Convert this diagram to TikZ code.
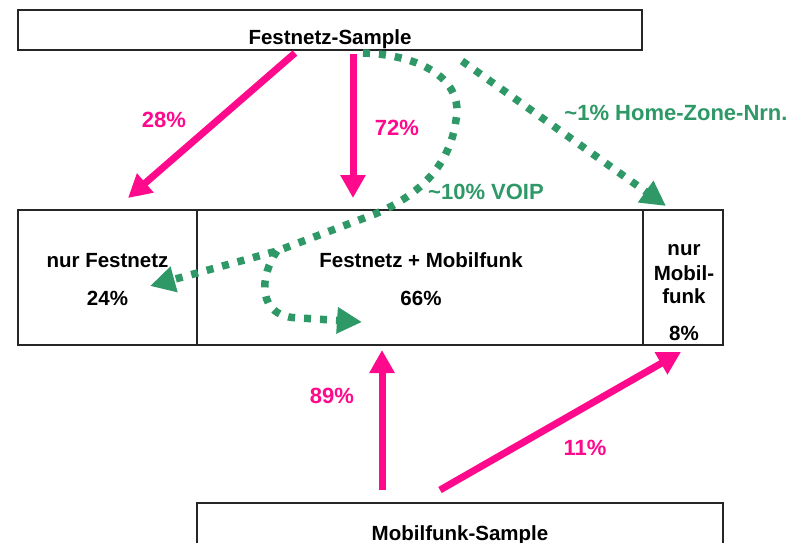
\documentclass[tikz,border=0pt]{standalone}
\usepackage{fontspec}
\setmainfont{Liberation Sans}
\usetikzlibrary{arrows.meta}
\definecolor{pinkc}{RGB}{255,10,140}
\definecolor{greenc}{RGB}{46,152,102}
\begin{document}
\begin{tikzpicture}[x=1pt,y=-1pt,
  box/.style={draw=black!85, line width=1.6pt, inner sep=0pt},
  txt/.style={font=\fontsize{20.5}{24}\selectfont\bfseries, text=black, inner sep=0pt, anchor=base},
  lbl/.style={font=\fontsize{22}{26}\selectfont\bfseries, inner sep=0pt, anchor=base},
  pinkarrow/.style={draw=pinkc, line width=7pt, -{Triangle[length=23pt,width=24pt]}},
  greenarrow/.style={draw=greenc, line width=7.5pt, dash pattern=on 7pt off 9pt, -{Triangle[length=25pt,width=25pt]}}
]
\clip (0,0) rectangle (798,543);
\fill[white] (0,0) rectangle (798,543);

% boxes
\node[box, minimum width=624pt, minimum height=40pt] (fs) at (330,30) {};
\node[box, minimum width=179pt, minimum height=135pt] (nf) at (107.5,277.5) {};
\node[box, minimum width=446pt, minimum height=135pt] (fm) at (420,277.5) {};
\node[box, minimum width=80pt, minimum height=135pt] (nm) at (683,277.5) {};
\node[box, minimum width=526pt, minimum height=70pt] (ms) at (460,538) {};

% box texts
\node[txt] (fst) at (330,45) {Festnetz-Sample};
\node[txt] (nft) at (107.5,267) {nur Festnetz};
\node[txt] (nfp) at (107.5,305) {24\%};
\node[txt] (fmt) at (421,267) {Festnetz + Mobilfunk};
\node[txt] (fmp) at (421,305) {66\%};
\node[txt] (nm1) at (684,255) {nur};
\node[txt] (nm2) at (684,280) {Mobil-};
\node[txt] (nm3) at (684,303) {funk};
\node[txt] (nmp) at (684,340) {8\%};
\node[txt] (mst) at (460,540) {Mobilfunk-Sample};

% connector end points
\coordinate (a28s) at (295,53);
\coordinate (a28e) at (128,198);
\coordinate (a72s) at (353,54);
\coordinate (a72e) at (353,198);
\coordinate (a89s) at (382,490);
\coordinate (a89e) at (382,350);
\coordinate (a11s) at (440,490);
\coordinate (a11e) at (681,352);
\coordinate (hzs) at (462,61);
\coordinate (hze) at (666,206);
\coordinate (vs) at (363,53);
\coordinate (vm) at (456,120);
\coordinate (vj) at (277,251);
\coordinate (vnf) at (150,286);
\coordinate (vfm) at (362,322);

% pink arrows
\draw[pinkarrow] (a28s) -- (a28e);
\draw[pinkarrow] (a72s) -- (a72e);
\draw[pinkarrow] (a89s) -- (a89e);
\draw[pinkarrow] (a11s) -- (a11e);

% green dotted arrows
\draw[greenarrow] (hzs) -- (hze);
\draw[greenarrow] (vs) .. controls (422,55) and (464,80) .. (vm)
  .. controls (450,165) and (420,195) .. (375,214) -- (vj) -- (vnf);
\draw[greenarrow] (vj) .. controls (260,275) and (255,318) .. (300,318) -- (vfm);

% labels
\node[lbl, text=pinkc] (l28) at (164,127) {28\%};
\node[lbl, text=pinkc] (l72) at (397,135) {72\%};
\node[lbl, text=pinkc] (l89) at (332,403) {89\%};
\node[lbl, text=pinkc] (l11) at (585,455) {11\%};
\node[lbl, text=greenc] (lhz) at (676,121) {\textasciitilde 1\% Home-Zone-Nrn.};
\node[lbl, text=greenc] (lvo) at (486,199) {\textasciitilde 10\% VOIP};
\end{tikzpicture}
\end{document}
